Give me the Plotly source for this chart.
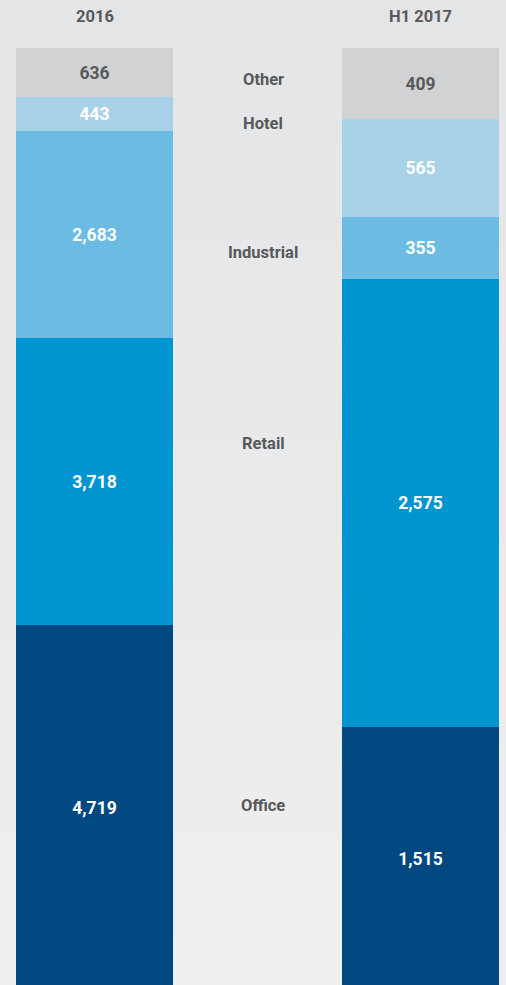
import plotly.graph_objects as go

# ---- data ----
periods = ["2016", "H1 2017"]
sectors = ["Office", "Retail", "Industrial", "Hotel", "Other"]
values_2016 = [4719, 3718, 2683, 443, 636]
values_h1_2017 = [1515, 2575, 355, 565, 409]
sector_colors = ["#004882", "#0095d1", "#6cbbe3", "#a8d2e7", "#d1d2d4"]
value_text_colors = ["#ffffff", "#ffffff", "#ffffff", "#ffffff", "#58595b"]
# vertical placement (percent of stack) of the sector labels shown between the bars
sector_label_y = [19.6, 58.0, 78.3, 91.9, 96.6]

tot_2016 = sum(values_2016)
tot_2017 = sum(values_h1_2017)
x_pos = [0, 1]

fig = go.Figure()
for i, s in enumerate(sectors):
    raw = [values_2016[i], values_h1_2017[i]]
    pct = [values_2016[i] / tot_2016 * 100, values_h1_2017[i] / tot_2017 * 100]
    fig.add_trace(go.Bar(
        x=x_pos, y=pct, customdata=raw, name=s,
        marker=dict(color=sector_colors[i], line=dict(width=0)),
        width=0.4816,
        texttemplate="%{customdata:,}", textposition="inside",
        insidetextanchor="middle", textangle=0,
        insidetextfont=dict(family="Roboto", size=17.5, color=value_text_colors[i], weight="bold"),
        hoverinfo="skip",
    ))

# sector labels in the gap between the bars
for s, yv in zip(sectors, sector_label_y):
    fig.add_annotation(x=0.518, y=yv, xref="x", yref="y", text=s, showarrow=False,
                       font=dict(family="Roboto", size=16.5, color="#58595b", weight="bold"))

# period headings
for p, xv in zip(periods, x_pos):
    fig.add_annotation(x=xv, y=103.25, xref="x", yref="y", text=p, showarrow=False,
                       font=dict(family="Roboto", size=16.5, color="#58595b", weight="bold"))

# background gradient
n = 40
top = (0xe4, 0xe5, 0xe7)
bot = (0xef, 0xef, 0xef)
shapes = []
for k in range(n):
    t = k / (n - 1)
    c = tuple(round(top[j] + (bot[j] - top[j]) * t) for j in range(3))
    shapes.append(dict(type="rect", xref="paper", yref="paper", x0=0, x1=1,
                       y0=1 - (k + 1) / n, y1=1 - k / n + 0.001, line=dict(width=0),
                       fillcolor="rgb(%d,%d,%d)" % c, layer="below"))

fig.update_layout(
    barmode="stack", width=506, height=985, margin=dict(l=0, r=0, t=0, b=0),
    paper_bgcolor="#e9eaeb", plot_bgcolor="rgba(0,0,0,0)", showlegend=False,
    shapes=shapes, bargap=0,
    uniformtext=dict(minsize=17, mode="show"),
    xaxis=dict(range=[-0.2899, 1.2623], visible=False, fixedrange=True),
    yaxis=dict(range=[0.53, 105.04], visible=False, fixedrange=True),
)
fig.write_html("out.html")
